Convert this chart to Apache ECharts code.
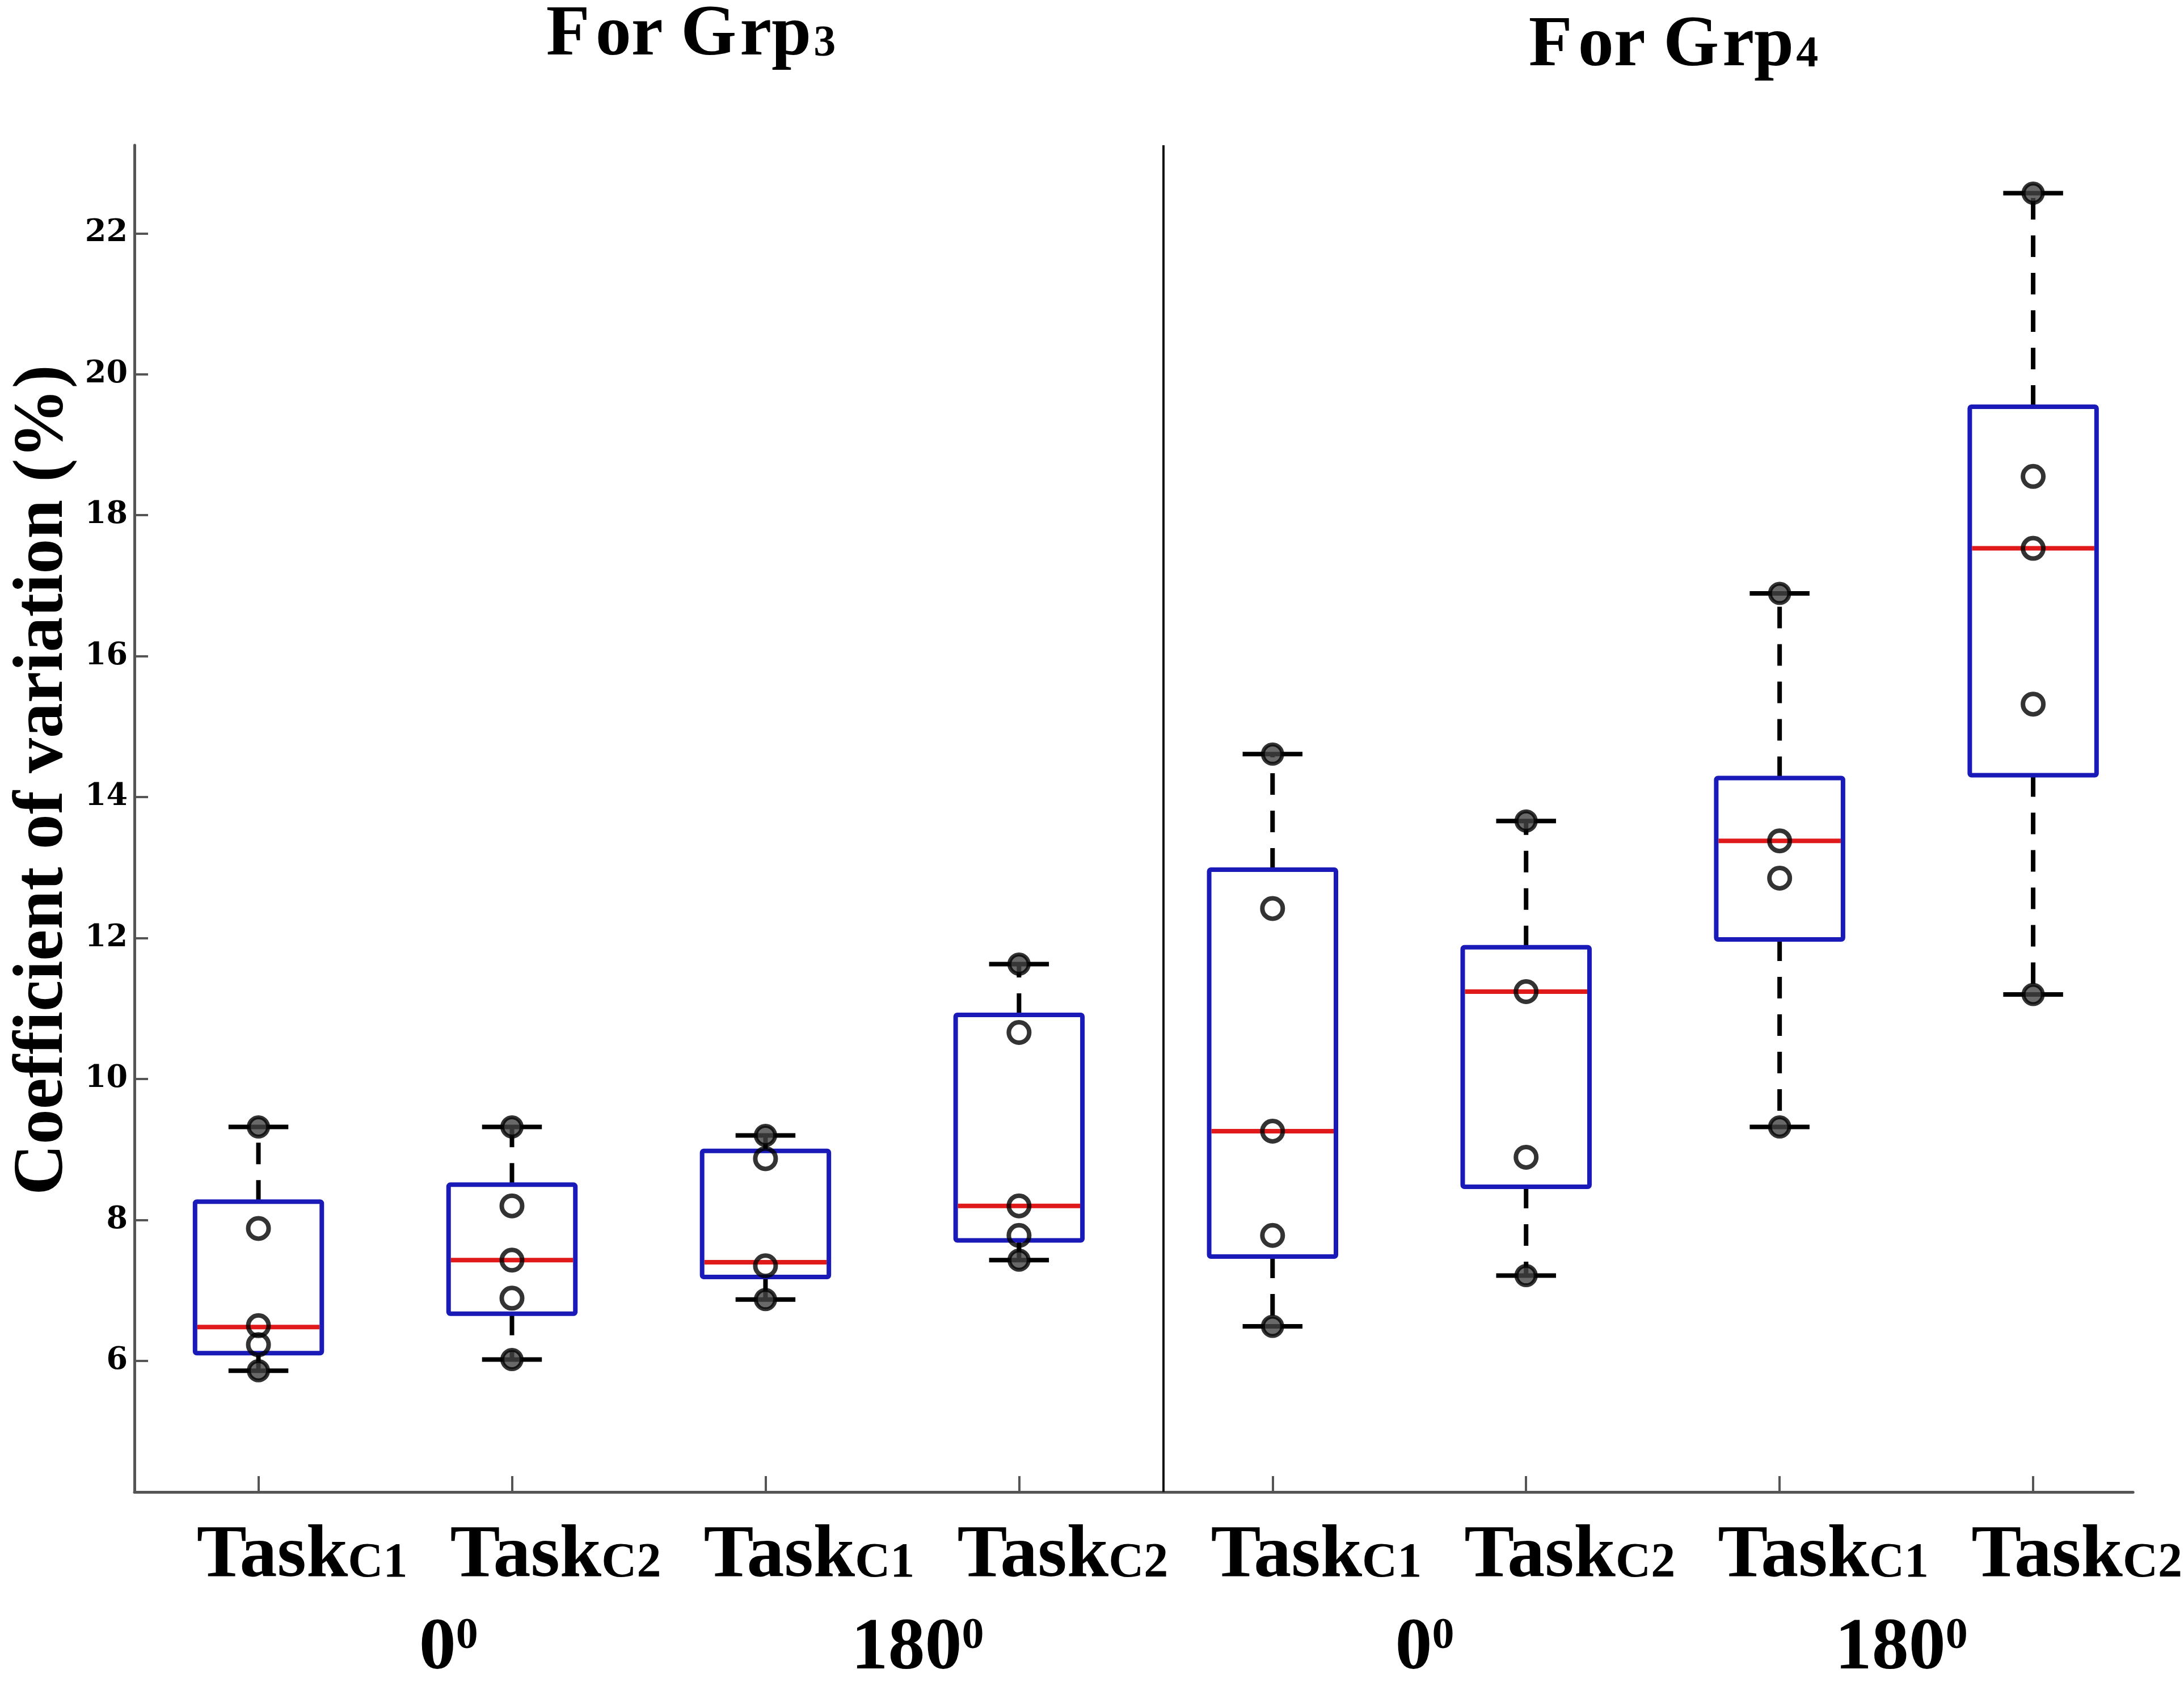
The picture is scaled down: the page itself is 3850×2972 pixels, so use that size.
<!DOCTYPE html>
<html lang="en">
<head>
<meta charset="UTF-8">
<title>Coefficient of variation boxplots</title>
<script src="https://cdn.jsdelivr.net/npm/echarts@6.0.0/dist/echarts.min.js"></script>
<style>
  html, body { margin: 0; padding: 0; background: #fff; }
  #chart { width: 3850px; height: 2972px; }
</style>
</head>
<body>
<div id="chart"></div>
<script>
// data
var categories = ['TaskC1', 'TaskC2', 'TaskC1', 'TaskC2', 'TaskC1', 'TaskC2', 'TaskC1', 'TaskC2'];
var slots = [1, 2, 3, 4, 5, 6, 7, 8];
var lowWhisker = [5.86, 6.02, 6.87, 7.43, 6.49, 7.21, 9.32, 11.20];
var q1 = [6.11, 6.67, 7.19, 7.71, 7.48, 8.47, 11.98, 14.31];
var median = [6.48, 7.43, 7.40, 8.20, 9.26, 11.24, 13.38, 17.53];
var q3 = [8.26, 8.50, 8.98, 10.91, 12.97, 11.87, 14.27, 19.54];
var highWhisker = [9.32, 9.32, 9.20, 11.63, 14.61, 13.66, 16.89, 22.57];
var innerPoints = [
  [7.88, 6.50, 6.23],
  [8.20, 7.43, 6.89],
  [8.87, 7.35],
  [10.66, 8.20, 7.78],
  [12.42, 9.26, 7.78],
  [11.24, 8.89],
  [13.38, 12.85],
  [18.55, 17.53, 15.32]
];
var angleLabels = ['0', '180', '0', '180'];
var anglePos = [1.75, 3.6, 5.6, 7.48];
var groupNames = ['3', '4'];
var dividerAt = 4.572;
var yTicks = [6, 8, 10, 12, 14, 16, 18, 20, 22];

var FONT = '"Liberation Serif", "Times New Roman", serif';

var boxData = slots.map(function (x, i) {
  return [x, lowWhisker[i], q1[i], median[i], q3[i], highWhisker[i]];
});
var hollowData = [];
innerPoints.forEach(function (pts, i) {
  pts.forEach(function (v) { hollowData.push([slots[i], v]); });
});
var capData = [];
slots.forEach(function (x, i) {
  capData.push([x, lowWhisker[i]]);
  capData.push([x, highWhisker[i]]);
});

function renderBox(params, api) {
  var x = api.value(0);
  var lo = api.coord([x, api.value(1)]);
  var b1 = api.coord([x, api.value(2)]);
  var md = api.coord([x, api.value(3)]);
  var b3 = api.coord([x, api.value(4)]);
  var hi = api.coord([x, api.value(5)]);
  var halfBox = api.size([0.5, 0])[0] / 2;
  var halfCap = api.size([0.236, 0])[0] / 2;
  var dash = { stroke: '#000', lineWidth: 8, lineDash: [38, 28] };
  var solid = { stroke: '#000', lineWidth: 8 };
  return {
    type: 'group',
    children: [
      { type: 'line', shape: { x1: b3[0], y1: b3[1], x2: hi[0], y2: hi[1] }, style: dash },
      { type: 'line', shape: { x1: b1[0], y1: b1[1], x2: lo[0], y2: lo[1] }, style: dash },
      { type: 'line', shape: { x1: hi[0] - halfCap, y1: hi[1], x2: hi[0] + halfCap, y2: hi[1] }, style: solid },
      { type: 'line', shape: { x1: lo[0] - halfCap, y1: lo[1], x2: lo[0] + halfCap, y2: lo[1] }, style: solid },
      {
        type: 'rect',
        shape: { x: b3[0] - halfBox, y: b3[1], width: halfBox * 2, height: b1[1] - b3[1], r: 3 },
        style: { fill: '#fff', stroke: '#1a1ab8', lineWidth: 8 }
      },
      {
        type: 'line',
        shape: { x1: md[0] - halfBox + 4, y1: md[1], x2: md[0] + halfBox - 4, y2: md[1] },
        style: { stroke: '#e01a1a', lineWidth: 8 }
      }
    ]
  };
}

function titleRich() {
  var base = { fontFamily: FONT, fontWeight: 'bold', fontSize: 126, lineHeight: 126, fill: '#000', verticalAlign: 'bottom' };
  return {
    f: Object.assign({}, base, { padding: [0, 10, 0, 0] }),
    t: base,
    g: Object.assign({}, base, { padding: [0, 6, 0, 0] }),
    s: { fontFamily: FONT, fontWeight: 'bold', fontSize: 78, lineHeight: 78, fill: '#000', verticalAlign: 'bottom', padding: [0, 0, 9, 4] }
  };
}

var chart = echarts.init(document.getElementById('chart'));
chart.setOption({
  backgroundColor: '#fff',
  animation: false,
  grid: { left: 237, right: 53, top: 256, bottom: 334 },
  xAxis: [{
    type: 'value',
    min: 0.511,
    max: 8.394,
    splitLine: { show: false },
    axisLine: { show: true, lineStyle: { color: '#555', width: 5 } },
    axisTick: { show: true, inside: true, length: 28, customValues: slots, lineStyle: { color: '#555', width: 4 } },
    axisLabel: {
      customValues: slots,
      margin: 48,
      padding: [0, 0, 0, 154],
      formatter: function (v) {
        var c = categories[Math.round(v) - 1];
        return '{t|' + c.slice(0, 4) + '}{s|' + c.slice(4) + '}';
      },
      rich: {
        t: { fontFamily: FONT, fontWeight: 'bold', fontSize: 132, lineHeight: 132, color: '#000', verticalAlign: 'bottom' },
        s: { fontFamily: FONT, fontWeight: 'bold', fontSize: 86, lineHeight: 86, color: '#000', verticalAlign: 'bottom', padding: [0, 0, 10, 0] }
      }
    }
  }, {
    type: 'value',
    min: 0.511,
    max: 8.394,
    position: 'bottom',
    splitLine: { show: false },
    axisLine: { show: false },
    axisTick: { show: false },
    axisLabel: {
      customValues: anglePos,
      margin: 212,
      formatter: function (v, i) {
        var idx = anglePos.indexOf(v);
        if (idx < 0) idx = i;
        return '{n|' + angleLabels[idx] + '}{p|0}';
      },
      rich: {
        n: { fontFamily: FONT, fontWeight: 'bold', fontSize: 130, lineHeight: 130, color: '#000', verticalAlign: 'top' },
        p: { fontFamily: FONT, fontWeight: 'bold', fontSize: 78, lineHeight: 78, color: '#000', verticalAlign: 'top', padding: [4, 0, 0, 0] }
      }
    }
  }],
  yAxis: {
    type: 'value',
    min: 4.14,
    max: 23.25,
    splitLine: { show: false },
    axisLine: { show: true, lineStyle: { color: '#555', width: 5 } },
    axisTick: { show: true, inside: true, length: 24, customValues: yTicks, lineStyle: { color: '#555', width: 4 } },
    axisLabel: {
      customValues: yTicks,
      margin: 12,
      color: '#000',
      fontFamily: '"DejaVu Serif", serif',
      fontWeight: 'bold',
      fontSize: 54
    }
  },
  graphic: [
    {
      type: 'text',
      x: 77, y: 1375, rotation: Math.PI / 2,
      style: {
        text: 'Coefficient of variation (%)',
        fontFamily: FONT, fontWeight: 'bold', fontSize: 124, fill: '#000',
        align: 'center', verticalAlign: 'middle'
      }
    },
    {
      type: 'text',
      x: 1218, y: 0,
      style: {
        text: '{f|F}{t|or }{g|G}{t|rp}{s|' + groupNames[0] + '}',
        align: 'center', verticalAlign: 'top',
        rich: titleRich()
      }
    },
    {
      type: 'text',
      x: 2950, y: 19,
      style: {
        text: '{f|F}{t|or }{g|G}{t|rp}{s|' + groupNames[1] + '}',
        align: 'center', verticalAlign: 'top',
        rich: titleRich()
      }
    }
  ],
  series: [
    {
      type: 'custom',
      renderItem: renderBox,
      data: boxData,
      encode: { x: 0, y: [1, 2, 3, 4, 5] },
      z: 2,
      markLine: {
        silent: true,
        symbol: 'none',
        label: { show: false },
        lineStyle: { color: '#111', width: 4, type: 'solid' },
        data: [{ xAxis: dividerAt }]
      }
    },
    {
      type: 'scatter',
      data: hollowData,
      symbol: 'circle',
      symbolSize: 36,
      itemStyle: { color: 'rgba(255,255,255,0)', borderColor: '#000', borderWidth: 8 },
      z: 3
    },
    {
      type: 'scatter',
      data: capData,
      symbol: 'circle',
      symbolSize: 34,
      itemStyle: { color: '#444', borderColor: '#000', borderWidth: 7 },
      z: 4
    }
  ]
});
</script>
</body>
</html>
